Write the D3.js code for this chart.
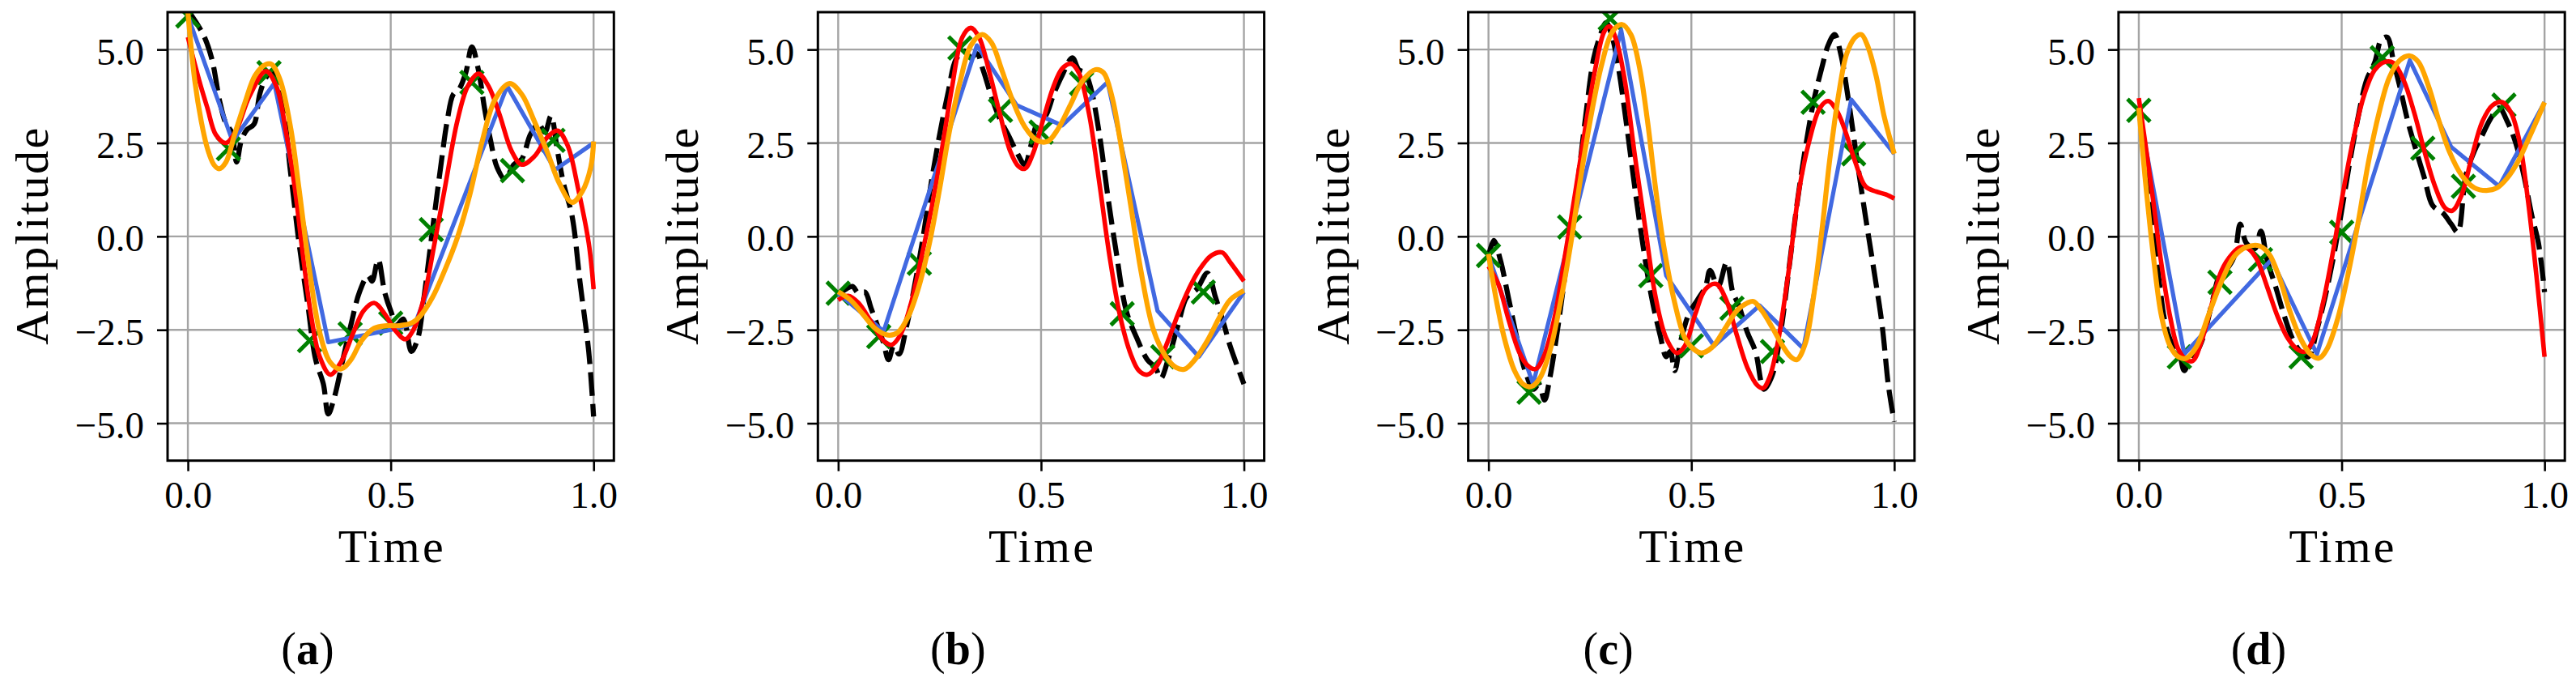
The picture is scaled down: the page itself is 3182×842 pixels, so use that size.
<!DOCTYPE html>
<html>
<head>
<meta charset="utf-8">
<script src="https://cdn.jsdelivr.net/npm/d3@7"></script>
<style>
  html, body { margin: 0; padding: 0; background: #fff; }
  svg { display: block; }
</style>
</head>
<body>
<svg id="chart" width="3182" height="842"></svg>
<script>
// ---------------- data ----------------
const timeTicks = [0, 0.5, 1.0];
const ampTicks = [-5, -2.5, 0, 2.5, 5];
const panelLabels = ["a", "b", "c", "d"];
const sampleTimes = [0, 0.1, 0.2, 0.3, 0.4, 0.5, 0.6, 0.7, 0.8, 0.9];

// panel (a)
const trueA = [[0,6.05],[0.038,5.40],[0.059,4.75],[0.079,3.59],[0.094,3.01],[0.108,2.79],[0.12,1.99],[0.132,2.57],[0.146,2.86],[0.163,3.0],[0.177,3.80],[0.192,4.24],[0.207,4.42],[0.223,4.17],[0.254,1.63],[0.274,-0.18],[0.295,-1.78],[0.315,-3.30],[0.334,-3.95],[0.346,-4.75],[0.361,-4.31],[0.382,-3.30],[0.402,-2.36],[0.423,-1.49],[0.444,-1.05],[0.454,-1.20],[0.469,-0.62],[0.485,-1.49],[0.5,-1.99],[0.515,-2.36],[0.531,-2.21],[0.551,-3.08],[0.567,-2.72],[0.582,-1.63],[0.603,0.18],[0.623,1.85],[0.639,3.08],[0.654,3.80],[0.669,3.95],[0.685,4.38],[0.70,5.07],[0.716,4.46],[0.731,3.44],[0.746,2.57],[0.762,1.85],[0.782,1.52],[0.803,1.92],[0.823,2.07],[0.844,2.72],[0.864,3.01],[0.88,2.79],[0.895,3.22],[0.911,2.28],[0.926,1.41],[0.947,0.54],[0.967,-1.27],[0.988,-3.08],[1.0,-4.82]];
const samplesA = [5.9, 2.35, 4.38, -2.79, -2.61, -2.32, 0.18, 4.12, 1.76, 2.57];
const linearA = [[0,5.9],[0.11,2.55],[0.213,4.1],[0.346,-2.83],[0.5,-2.5],[0.56,-2.33],[0.787,4.02],[0.905,1.78],[1.0,2.5]];
const redA = [[0,5.33],[0.028,4.17],[0.048,3.44],[0.069,2.72],[0.094,2.5],[0.12,2.86],[0.151,3.73],[0.192,4.42],[0.218,4.02],[0.243,2.72],[0.264,1.27],[0.284,-0.54],[0.305,-2.21],[0.325,-3.22],[0.351,-3.70],[0.377,-3.37],[0.408,-2.57],[0.433,-1.99],[0.459,-1.78],[0.485,-2.07],[0.51,-2.50],[0.536,-2.75],[0.556,-2.50],[0.582,-1.63],[0.608,-0.18],[0.633,1.27],[0.664,3.08],[0.69,4.02],[0.716,4.35],[0.741,4.02],[0.767,3.30],[0.798,2.28],[0.823,1.92],[0.854,2.14],[0.885,2.64],[0.911,2.83],[0.936,2.43],[0.962,1.27],[0.988,-0.18],[1.0,-1.41]];
const orangeA = [[0,6.0],[0.017,4.17],[0.033,3.08],[0.048,2.36],[0.064,1.92],[0.077,1.81],[0.094,1.99],[0.115,2.72],[0.141,3.59],[0.166,4.31],[0.192,4.60],[0.207,4.60],[0.228,4.17],[0.254,2.86],[0.274,1.27],[0.30,-0.91],[0.325,-2.57],[0.351,-3.37],[0.377,-3.55],[0.402,-3.30],[0.428,-2.79],[0.459,-2.46],[0.49,-2.39],[0.521,-2.39],[0.551,-2.32],[0.572,-2.14],[0.603,-1.63],[0.633,-0.91],[0.664,-0.04],[0.695,1.12],[0.726,2.57],[0.757,3.66],[0.793,4.09],[0.823,3.80],[0.854,3.08],[0.885,2.28],[0.916,1.41],[0.947,0.91],[0.972,1.20],[0.993,1.85],[1.0,2.54]];

// panel (b)
const trueB = [[0,-1.56],[0.019,-1.41],[0.035,-1.34],[0.05,-1.52],[0.066,-1.49],[0.081,-1.92],[0.096,-2.36],[0.112,-2.86],[0.124,-3.30],[0.137,-2.93],[0.15,-3.15],[0.168,-2.43],[0.188,-1.34],[0.209,-0.04],[0.229,1.41],[0.25,2.72],[0.27,3.80],[0.291,4.75],[0.311,4.96],[0.327,4.78],[0.342,4.89],[0.357,4.46],[0.378,3.73],[0.398,3.15],[0.419,2.72],[0.439,2.28],[0.46,1.92],[0.475,2.43],[0.49,3.01],[0.511,3.22],[0.531,3.80],[0.552,4.31],[0.577,4.78],[0.593,4.46],[0.608,4.38],[0.623,3.95],[0.644,2.72],[0.664,1.12],[0.685,-0.40],[0.71,-1.99],[0.736,-2.72],[0.762,-3.30],[0.782,-3.51],[0.795,-3.80],[0.813,-3.30],[0.838,-2.36],[0.859,-1.63],[0.884,-1.41],[0.91,-0.98],[0.93,-1.63],[0.951,-2.36],[0.966,-2.93],[1.0,-3.95]];
const samplesB = [-1.52, -2.68, -0.72, 5.04, 3.37, 2.79, 4.09, -2.07, -3.22, -1.49];
const linearB = [[0,-1.52],[0.112,-2.54],[0.342,5.11],[0.44,3.51],[0.552,2.97],[0.664,4.13],[0.787,-1.99],[0.889,-3.22],[1.0,-1.49]];
const redB = [[0,-1.70],[0.025,-1.59],[0.05,-1.78],[0.081,-2.28],[0.112,-2.79],[0.132,-2.90],[0.153,-2.64],[0.178,-1.85],[0.204,-0.62],[0.229,0.69],[0.255,2.28],[0.28,3.95],[0.306,5.33],[0.327,5.58],[0.347,5.33],[0.373,4.38],[0.398,3.30],[0.424,2.28],[0.444,1.88],[0.46,1.81],[0.48,2.21],[0.506,3.15],[0.531,4.02],[0.552,4.49],[0.574,4.62],[0.593,4.38],[0.618,3.30],[0.644,1.41],[0.669,-0.54],[0.695,-2.14],[0.721,-3.15],[0.741,-3.59],[0.762,-3.70],[0.787,-3.44],[0.813,-2.79],[0.838,-2.07],[0.864,-1.41],[0.889,-0.91],[0.92,-0.51],[0.946,-0.43],[0.966,-0.69],[1.0,-1.20]];
const orangeB = [[0,-1.48],[0.03,-1.70],[0.06,-2.07],[0.091,-2.46],[0.122,-2.64],[0.147,-2.57],[0.173,-2.14],[0.199,-1.34],[0.225,-0.18],[0.25,1.27],[0.275,2.86],[0.301,4.17],[0.327,5.11],[0.355,5.40],[0.378,5.18],[0.403,4.46],[0.429,3.66],[0.46,2.93],[0.49,2.57],[0.516,2.54],[0.541,2.86],[0.572,3.51],[0.603,4.17],[0.634,4.46],[0.654,4.38],[0.675,3.73],[0.695,2.57],[0.721,0.83],[0.746,-0.91],[0.777,-2.50],[0.808,-3.22],[0.833,-3.51],[0.854,-3.55],[0.879,-3.30],[0.91,-2.79],[0.941,-2.14],[0.966,-1.70],[1.0,-1.45]];

// panel (c)
const trueC = [[0,-0.54],[0.013,-0.11],[0.029,-0.62],[0.049,-1.63],[0.07,-2.72],[0.09,-3.59],[0.111,-4.09],[0.124,-3.95],[0.138,-4.38],[0.151,-3.80],[0.172,-2.36],[0.192,-0.76],[0.218,1.27],[0.238,3.08],[0.259,4.75],[0.274,5.33],[0.29,5.72],[0.305,5.33],[0.32,4.53],[0.341,2.93],[0.361,1.27],[0.382,-0.33],[0.402,-1.63],[0.423,-2.64],[0.438,-3.22],[0.448,-3.08],[0.459,-3.59],[0.474,-2.79],[0.494,-2.07],[0.515,-1.70],[0.535,-1.34],[0.546,-0.91],[0.566,-1.34],[0.587,-0.69],[0.602,-1.49],[0.617,-1.85],[0.638,-2.57],[0.658,-3.08],[0.679,-4.09],[0.699,-3.73],[0.72,-2.57],[0.74,-0.91],[0.761,0.91],[0.781,2.36],[0.801,3.59],[0.822,4.53],[0.837,5.11],[0.853,5.40],[0.868,4.89],[0.888,3.59],[0.909,1.99],[0.929,0.54],[0.95,-0.91],[0.97,-2.36],[0.986,-4.02],[1.0,-4.96]];
const samplesC = [-0.51, -4.17, 0.25, 5.83, -1.05, -2.93, -1.92, -3.08, 3.59, 2.21];
const linearC = [[0,-0.51],[0.11,-3.95],[0.327,5.52],[0.438,-1.05],[0.556,-2.93],[0.668,-1.85],[0.776,-3.0],[0.894,3.66],[1.0,2.21]];
const redC = [[0,-0.80],[0.024,-1.27],[0.049,-2.21],[0.075,-3.08],[0.095,-3.44],[0.116,-3.55],[0.136,-3.22],[0.162,-2.21],[0.187,-0.62],[0.213,1.12],[0.238,2.86],[0.264,4.53],[0.285,5.47],[0.298,5.62],[0.315,5.25],[0.336,4.17],[0.361,2.14],[0.387,0.18],[0.412,-1.63],[0.438,-2.72],[0.464,-3.12],[0.484,-2.93],[0.51,-2.07],[0.535,-1.41],[0.561,-1.27],[0.586,-1.70],[0.612,-2.64],[0.638,-3.51],[0.663,-3.99],[0.677,-4.06],[0.694,-3.73],[0.714,-2.79],[0.74,-0.91],[0.766,1.27],[0.791,2.57],[0.817,3.44],[0.837,3.62],[0.858,3.37],[0.878,2.86],[0.904,1.99],[0.929,1.34],[0.955,1.20],[0.98,1.12],[1.0,1.01]];
const orangeC = [[0,-0.47],[0.018,-1.63],[0.039,-2.72],[0.064,-3.59],[0.085,-3.95],[0.105,-4.02],[0.126,-3.80],[0.151,-3.08],[0.177,-1.78],[0.203,-0.18],[0.228,1.63],[0.254,3.30],[0.279,4.60],[0.305,5.47],[0.329,5.67],[0.351,5.40],[0.372,4.53],[0.392,3.08],[0.412,1.27],[0.433,-0.33],[0.459,-1.78],[0.484,-2.72],[0.505,-3.01],[0.525,-3.12],[0.551,-2.97],[0.581,-2.50],[0.612,-1.99],[0.638,-1.78],[0.653,-1.74],[0.674,-1.99],[0.699,-2.43],[0.725,-2.93],[0.745,-3.22],[0.76,-3.30],[0.781,-2.86],[0.801,-1.63],[0.822,0.18],[0.842,2.14],[0.863,3.80],[0.883,4.89],[0.904,5.33],[0.919,5.40],[0.934,5.11],[0.955,4.31],[0.975,3.22],[1.0,2.21]];

// panel (d)
const trueD = [[0,3.44],[0.012,2.43],[0.026,1.12],[0.039,-0.04],[0.051,-1.27],[0.066,-2.36],[0.082,-2.86],[0.097,-3.01],[0.112,-3.59],[0.128,-3.22],[0.143,-3.08],[0.158,-2.72],[0.179,-1.85],[0.199,-1.05],[0.214,-0.91],[0.235,-0.54],[0.25,0.33],[0.265,-0.18],[0.286,-0.33],[0.301,0.14],[0.316,-0.62],[0.337,-1.34],[0.357,-2.07],[0.378,-2.72],[0.398,-3.08],[0.418,-3.22],[0.439,-2.50],[0.459,-1.63],[0.48,-0.54],[0.5,0.69],[0.52,1.99],[0.541,3.22],[0.561,4.17],[0.582,4.67],[0.597,5.25],[0.612,5.33],[0.628,4.67],[0.643,4.02],[0.663,3.08],[0.684,2.28],[0.704,1.56],[0.724,0.83],[0.75,0.62],[0.77,0.33],[0.786,0.11],[0.806,1.63],[0.827,2.28],[0.847,2.72],[0.867,3.15],[0.888,3.44],[0.908,3.08],[0.929,2.50],[0.949,1.63],[0.969,0.54],[0.985,-0.18],[1.0,-1.49]];
const samplesD = [3.37, -3.22, -1.23, -0.62, -3.22, 0.11, 4.78, 2.36, 1.34, 3.51];
const linearD = [[0,3.37],[0.112,-3.15],[0.327,-0.62],[0.439,-3.15],[0.668,4.71],[0.77,2.39],[0.888,1.34],[1.0,3.59]];
const redD = [[0,3.70],[0.015,2.57],[0.036,0.91],[0.056,-0.76],[0.077,-2.14],[0.097,-3.01],[0.117,-3.30],[0.133,-3.33],[0.153,-2.86],[0.179,-1.85],[0.204,-0.91],[0.23,-0.47],[0.25,-0.29],[0.27,-0.33],[0.291,-0.62],[0.316,-1.34],[0.342,-2.14],[0.367,-2.72],[0.393,-3.04],[0.41,-3.08],[0.429,-2.79],[0.454,-1.78],[0.48,-0.33],[0.505,1.27],[0.531,2.72],[0.556,3.80],[0.582,4.46],[0.607,4.67],[0.628,4.64],[0.653,4.17],[0.679,3.30],[0.704,2.28],[0.73,1.34],[0.755,0.76],[0.773,0.69],[0.796,1.12],[0.821,2.14],[0.847,3.08],[0.872,3.51],[0.896,3.59],[0.918,3.30],[0.939,2.50],[0.959,0.98],[0.98,-1.05],[1.0,-3.22]];
const orangeD = [[0,3.44],[0.015,1.63],[0.036,-0.54],[0.056,-2.14],[0.077,-2.93],[0.097,-3.22],[0.117,-3.26],[0.143,-2.93],[0.173,-2.07],[0.204,-1.20],[0.235,-0.54],[0.265,-0.29],[0.296,-0.25],[0.321,-0.47],[0.347,-1.12],[0.372,-1.99],[0.398,-2.72],[0.423,-3.15],[0.444,-3.26],[0.464,-3.01],[0.49,-2.21],[0.515,-1.05],[0.541,0.40],[0.566,1.99],[0.592,3.30],[0.617,4.24],[0.643,4.71],[0.668,4.83],[0.689,4.67],[0.714,4.02],[0.74,3.08],[0.765,2.28],[0.796,1.63],[0.827,1.30],[0.857,1.23],[0.883,1.30],[0.908,1.56],[0.934,1.99],[0.959,2.57],[0.98,3.08],[1.0,3.59]];

const panels = [
  { label: panelLabels[0], truth: trueA, samples: samplesA, linear: linearA, red: redA, orange: orangeA },
  { label: panelLabels[1], truth: trueB, samples: samplesB, linear: linearB, red: redB, orange: orangeB },
  { label: panelLabels[2], truth: trueC, samples: samplesC, linear: linearC, red: redC, orange: orangeC },
  { label: panelLabels[3], truth: trueD, samples: samplesD, linear: linearD, red: redD, orange: orangeD }
];

// ---------------- layout ----------------
const svg = d3.select("#chart");
svg.append("rect").attr("width", 3182).attr("height", 842).attr("fill", "#fff");

const FONT = "'Liberation Serif', 'Times New Roman', serif";
const panelStep = 803.3;
const axLeft0 = 207, axWidth = 551.3, axTop = 15, axBottom = 568.7;
const fmt = d3.format(".1f");

panels.forEach((p, i) => {
  const left = axLeft0 + i * panelStep;
  const right = left + axWidth;
  const x = d3.scaleLinear().domain([-0.05, 1.05]).range([left, right]);
  const y = d3.scaleLinear().domain([-6, 6]).range([axBottom, axTop]);

  const g = svg.append("g");
  const clipId = "clip" + i;
  svg.append("clipPath").attr("id", clipId)
    .append("rect").attr("x", left).attr("y", axTop).attr("width", axWidth).attr("height", axBottom - axTop);

  // grid
  const grid = g.append("g").attr("stroke", "#a4a4a4").attr("stroke-width", 2.4);
  grid.selectAll(".gx").data(timeTicks).enter().append("line")
    .attr("x1", d => x(d)).attr("x2", d => x(d)).attr("y1", axTop).attr("y2", axBottom);
  grid.selectAll(".gy").data(ampTicks).enter().append("line")
    .attr("y1", d => y(d)).attr("y2", d => y(d)).attr("x1", left).attr("x2", right);

  const plot = g.append("g").attr("clip-path", `url(#${clipId})`);
  const smooth = d3.line().x(d => x(d[0])).y(d => y(d[1])).curve(d3.curveCatmullRom.alpha(0.5));
  const straight = d3.line().x(d => x(d[0])).y(d => y(d[1]));

  // true signal (black dashed)
  plot.append("path").attr("d", smooth(p.truth)).attr("fill", "none")
    .attr("stroke", "#000").attr("stroke-width", 6.3).attr("stroke-dasharray", "29,10");

  // samples (green x)
  const sz = 14;
  const mk = plot.append("g").attr("stroke", "#008000").attr("stroke-width", 5);
  sampleTimes.forEach((t, k) => {
    const cx = x(t), cy = y(p.samples[k]);
    mk.append("path").attr("d", `M${cx - sz},${cy - sz}L${cx + sz},${cy + sz}M${cx - sz},${cy + sz}L${cx + sz},${cy - sz}`);
  });

  // linear interpolation (blue)
  plot.append("path").attr("d", straight(p.linear)).attr("fill", "none")
    .attr("stroke", "#4169e1").attr("stroke-width", 5.2).attr("stroke-linejoin", "round");
  // red reconstruction
  plot.append("path").attr("d", smooth(p.red)).attr("fill", "none")
    .attr("stroke", "#ff0000").attr("stroke-width", 5.6);
  // orange reconstruction
  plot.append("path").attr("d", smooth(p.orange)).attr("fill", "none")
    .attr("stroke", "#ffa500").attr("stroke-width", 6.2);

  // spines
  g.append("rect").attr("x", left).attr("y", axTop).attr("width", axWidth).attr("height", axBottom - axTop)
    .attr("fill", "none").attr("stroke", "#000").attr("stroke-width", 3);

  // axes
  const xAxis = d3.axisBottom(x).tickValues(timeTicks).tickFormat(fmt).tickSize(13).tickPadding(11.6);
  const gx = g.append("g").attr("transform", `translate(0,${axBottom})`).call(xAxis);
  const yAxis = d3.axisLeft(y).tickValues(ampTicks).tickFormat(fmt).tickSize(13).tickPadding(16);
  const gy = g.append("g").attr("transform", `translate(${left},0)`).call(yAxis);
  [gx, gy].forEach(a => {
    a.select(".domain").remove();
    a.selectAll(".tick line").attr("stroke", "#000").attr("stroke-width", 2.6);
    a.selectAll(".tick text").attr("fill", "#000").style("font-family", FONT).style("font-size", "47px");
  });
  gy.selectAll(".tick text").attr("dy", "0.385em");

  // axis labels
  g.append("text").attr("x", (left + right) / 2).attr("y", 693.7)
    .attr("text-anchor", "middle").style("font-family", FONT).style("font-size", "58px")
    .attr("textLength", 130).attr("lengthAdjust", "spacing").text("Time");
  g.append("text").attr("transform", `translate(${left - 148},${(axTop + axBottom) / 2}) rotate(-90)`)
    .attr("text-anchor", "middle").style("font-family", FONT).style("font-size", "58px")
    .attr("textLength", 268).attr("lengthAdjust", "spacing").text("Amplitude");

  // panel label
  const pl = svg.append("text").attr("x", 380 + i * panelStep).attr("y", 820)
    .attr("text-anchor", "middle").style("font-family", FONT).style("font-size", "56px");
  pl.append("tspan").text("(");
  pl.append("tspan").style("font-weight", "bold").text(p.label);
  pl.append("tspan").text(")");
});
</script>
</body>
</html>
